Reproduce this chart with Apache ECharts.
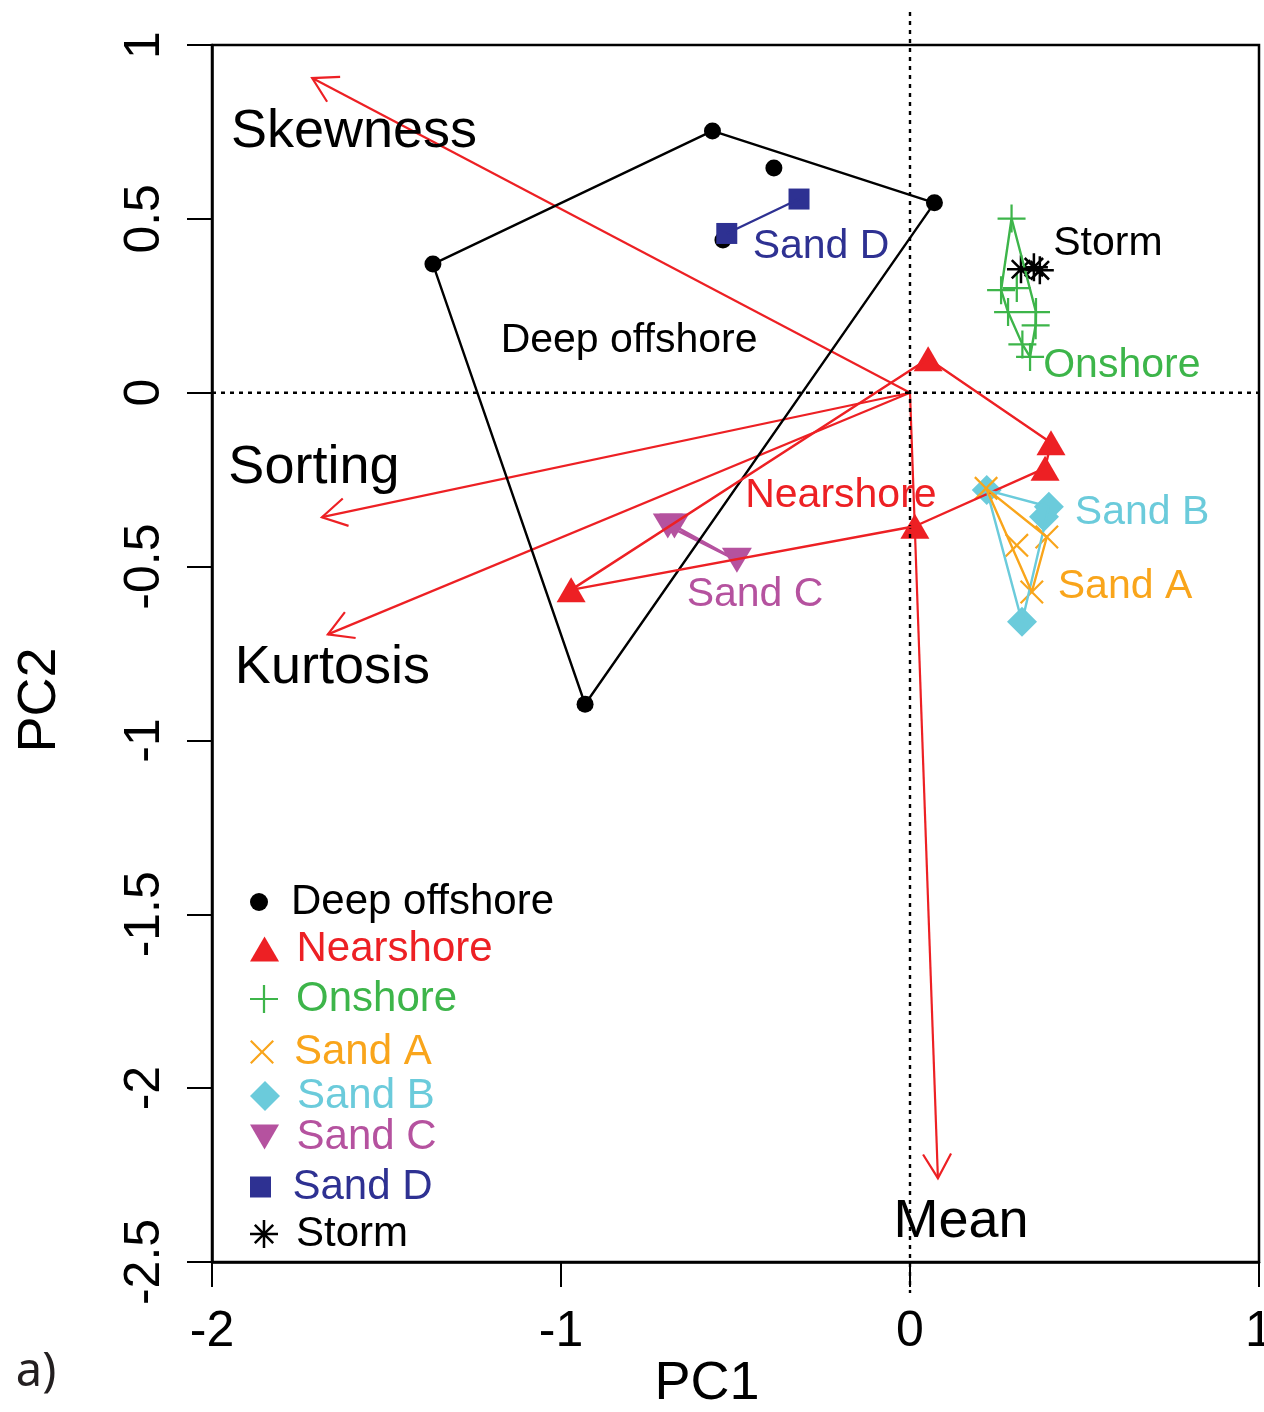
<!DOCTYPE html>
<html><head><meta charset="utf-8">
<script src="https://cdn.jsdelivr.net/npm/echarts@6/dist/echarts.min.js"></script>
<style>html,body{margin:0;padding:0;background:#fff}#c{width:1264px;height:1412px}</style>
</head><body><div id="c"></div>
<script>
// ---------------- data ----------------
const xTicks = [-2, -1, 0, 1];
const yTicks = [1, 0.5, 0, -0.5, -1, -1.5, -2, -2.5];

const groupNames = ['Deep offshore','Nearshore','Onshore','Sand A','Sand B','Sand C','Sand D','Storm'];

const deepOffshoreX = [-0.566, -0.390, 0.070, -1.367, -0.931, -0.536];
const deepOffshoreY = [ 0.753,  0.646, 0.546,  0.370, -0.896,  0.439];

const nearshoreX = [0.052,  0.404,  0.387,  0.014, -0.971];
const nearshoreY = [0.098, -0.144, -0.217, -0.384, -0.567];

const onshoreX = [0.291, 0.261, 0.306, 0.281, 0.361, 0.360, 0.322, 0.344];
const onshoreY = [0.501, 0.295, 0.301, 0.232, 0.232, 0.194, 0.139, 0.103];

const sandAX = [ 0.218,  0.306,  0.392,  0.349];
const sandAY = [-0.275, -0.439, -0.415, -0.573];

const sandBX = [ 0.220,  0.398,  0.384,  0.321];
const sandBY = [-0.280, -0.328, -0.357, -0.659];

const sandCX = [-0.694, -0.675, -0.496];
const sandCY = [-0.383, -0.383, -0.482];

const sandDX = [-0.525, -0.318];
const sandDY = [ 0.458,  0.557];

const stormX = [0.318, 0.355, 0.372];
const stormY = [0.355, 0.361, 0.352];

// loading arrows (from origin)
const variables = ['Skewness', 'Sorting', 'Kurtosis', 'Mean'];
const loadingX = [-1.713, -1.685, -1.668,  0.080];
const loadingY = [ 0.905, -0.358, -0.695, -2.259];

// text label anchor positions (data coordinates)
const varLabelX = [-1.593, -1.708, -1.655, 0.146];
const varLabelY = [ 0.749, -0.217, -0.792, -2.386];
const groupLabelText = ['Deep offshore','Sand D','Storm','Onshore','Nearshore','Sand B','Sand A','Sand C'];
const groupLabelX = [-0.805, -0.255, 0.567, 0.607, -0.198, 0.665, 0.616, -0.444];
const groupLabelY = [ 0.151,  0.421, 0.430, 0.079, -0.295, -0.344, -0.559, -0.582];

// ---------------- styles ----------------
const FONT = "'Liberation Sans', Arial, Helvetica, sans-serif";
const COL = {
  'Deep offshore': '#000000', 'Nearshore': '#ED2024', 'Onshore': '#3DB54A',
  'Sand A': '#F9A51B', 'Sand B': '#6BCBDB', 'Sand C': '#B5529F',
  'Sand D': '#2E3192', 'Storm': '#000000'
};
const plusPath = 'path://M46,0L54,0L54,46L100,46L100,54L54,54L54,100L46,100L46,54L0,54L0,46L46,46Z';
function xPoly(o, s, d) { // X outline inside box [o, o+s]
  const P = (a, b) => (o + a * s / 100).toFixed(2) + ',' + (o + b * s / 100).toFixed(2);
  return 'M' + [P(d,0), P(50,50-d), P(100-d,0), P(100,d), P(50+d,50), P(100,100-d),
    P(100-d,100), P(50,50+d), P(d,100), P(0,100-d), P(50-d,50), P(0,d)].join('L') + 'Z';
}
const crossPath = 'path://' + xPoly(0, 100, 6.5);
const starPath = 'path://M45.5,0L54.5,0L54.5,45.5L100,45.5L100,54.5L54.5,54.5L54.5,100L45.5,100L45.5,54.5L0,54.5L0,45.5L45.5,45.5Z' + xPoly(14, 72, 9);
const SYM = {
  'Deep offshore': ['circle', 17, 18],
  'Nearshore': ['path://M50,0L100,86L0,86Z', [29, 25], 25],
  'Onshore': [plusPath, 28, 28],
  'Sand A': [crossPath, 24, 24],
  'Sand B': ['path://M50,0L100,50L50,100L0,50Z', 30, 30],
  'Sand C': ['path://M0,0L100,0L50,86Z', [30, 25], 25],
  'Sand D': ['path://M0,0L100,0L100,100L0,100Z', 21, 21],
  'Storm': [starPath, 28, 28]
};
const legendRowY = [901, 948, 998, 1051, 1095, 1136, 1186, 1233];

const groupData = {
  'Deep offshore': [deepOffshoreX, deepOffshoreY],
  'Nearshore': [nearshoreX, nearshoreY],
  'Onshore': [onshoreX, onshoreY],
  'Sand A': [sandAX, sandAY],
  'Sand B': [sandBX, sandBY],
  'Sand C': [sandCX, sandCY],
  'Sand D': [sandDX, sandDY],
  'Storm': [stormX, stormY]
};

function hull(xs, ys) {
  const pts = xs.map((x, i) => [x, ys[i]]).sort((a, b) => a[0] - b[0] || a[1] - b[1]);
  if (pts.length < 3) return pts.concat([pts[0]]);
  const cr = (o, a, b) => (a[0]-o[0])*(b[1]-o[1]) - (a[1]-o[1])*(b[0]-o[0]);
  const lo = [], up = [];
  for (const p of pts) { while (lo.length >= 2 && cr(lo[lo.length-2], lo[lo.length-1], p) <= 0) lo.pop(); lo.push(p); }
  for (let i = pts.length - 1; i >= 0; i--) { const p = pts[i]; while (up.length >= 2 && cr(up[up.length-2], up[up.length-1], p) <= 0) up.pop(); up.push(p); }
  lo.pop(); up.pop();
  const h = lo.concat(up); h.push(h[0]); return h;
}

function groupSeries(name) {
  const [xs, ys] = groupData[name];
  const s = SYM[name];
  return [
    { type: 'line', name: name + ' hull', data: hull(xs, ys), symbol: 'none', silent: true,
      lineStyle: { color: COL[name], width: 2.4 }, itemStyle: { color: COL[name] } },
    { type: 'scatter', name: name, data: xs.map((x, i) => [x, ys[i]]),
      symbol: s[0], symbolSize: s[1], itemStyle: { color: COL[name], opacity: 1 } }
  ];
}

const arrowSeries = {
  type: 'custom', name: 'loadings', silent: true,
  data: loadingX.map((x, i) => [x, loadingY[i]]),
  encode: { x: 0, y: 1 },
  renderItem: function (params, api) {
    const p0 = api.coord([0, 0]);
    const p1 = api.coord([api.value(0), api.value(1)]);
    const ang = Math.atan2(p1[1] - p0[1], p1[0] - p0[0]);
    const L = 28, A = Math.PI / 6;
    const h1 = [p1[0] - L * Math.cos(ang - A), p1[1] - L * Math.sin(ang - A)];
    const h2 = [p1[0] - L * Math.cos(ang + A), p1[1] - L * Math.sin(ang + A)];
    const st = { stroke: '#ED2024', lineWidth: 2.2, fill: null };
    return { type: 'group', children: [
      { type: 'line', shape: { x1: p0[0], y1: p0[1], x2: p1[0], y2: p1[1] }, style: st },
      { type: 'polyline', shape: { points: [h1, p1, h2] }, style: st }
    ]};
  }
};

function textSeries(name, texts, xs, ys, colors, size) {
  return {
    type: 'custom', name: name, silent: true,
    data: xs.map((x, i) => [x, ys[i]]), encode: { x: 0, y: 1 },
    renderItem: function (params, api) {
      const p = api.coord([api.value(0), api.value(1)]);
      const i = params.dataIndex;
      return { type: 'text', x: p[0], y: p[1], style: {
        text: texts[i], fill: colors[i], fontSize: size, fontFamily: FONT,
        align: 'center', verticalAlign: 'middle', textAlign: 'center', textVerticalAlign: 'middle' } };
    }
  };
}

const refLineStyle = { color: '#000', width: 2.4, type: [4, 5] };
const series = [
  { type: 'line', name: 'h0', data: [[xTicks[0], 0], [xTicks[xTicks.length - 1], 0]], symbol: 'none', silent: true, lineStyle: refLineStyle },
  { type: 'line', name: 'v0', data: [[0, 1.095], [0, -2.589]], symbol: 'none', silent: true, clip: false, lineStyle: refLineStyle },
  ...groupSeries('Sand C'),
  ...groupSeries('Deep offshore'),
  arrowSeries,
  ...groupSeries('Sand D'),
  ...groupSeries('Nearshore'),
  ...groupSeries('Onshore'),
  ...groupSeries('Sand B'),
  ...groupSeries('Sand A'),
  ...groupSeries('Storm'),
  textSeries('varLabels', variables, varLabelX, varLabelY, variables.map(() => '#000'), 54),
  textSeries('groupLabels', groupLabelText, groupLabelX, groupLabelY, groupLabelText.map(n => COL[n]), 41)
];

const legends = groupNames.map((n, i) => {
  const h = SYM[n][2];
  return {
    data: [n], left: 250, top: legendRowY[i] - 20, padding: 0, itemGap: 0,
    itemWidth: 54, itemHeight: h, selectedMode: false, symbolKeepAspect: true,
    textStyle: { color: COL[n], fontSize: 42, fontFamily: FONT }
  };
});

const chart = echarts.init(document.getElementById('c'), null, { renderer: 'canvas' });
chart.setOption({
  animation: false,
  backgroundColor: '#fff',
  grid: { left: 212, top: 45, width: 1047, height: 1217, show: true, borderColor: '#000', borderWidth: 2.5,
          containLabel: false, outerBoundsMode: 'none' },
  xAxis: {
    type: 'value', min: Math.min(...xTicks), max: Math.max(...xTicks), interval: 1,
    axisLine: { show: true, onZero: false, lineStyle: { color: '#000', width: 2.5 } },
    axisTick: { show: true, length: 25, lineStyle: { color: '#000', width: 2 } },
    splitLine: { show: false },
    axisLabel: { fontSize: 50, fontFamily: FONT, color: '#000', margin: 45, showMinLabel: true, showMaxLabel: true }
  },
  yAxis: {
    type: 'value', min: Math.min(...yTicks), max: Math.max(...yTicks), interval: 0.5,
    axisLine: { show: true, onZero: false, lineStyle: { color: '#000', width: 2.5 } },
    axisTick: { show: true, length: 25, lineStyle: { color: '#000', width: 2 } },
    splitLine: { show: false },
    axisLabel: { fontSize: 50, fontFamily: FONT, color: '#000', rotate: 90, margin: 42, showMinLabel: true, showMaxLabel: true }
  },
  legend: legends,
  graphic: [
    { type: 'text', x: 707, y: 1384, style: { text: 'PC1', fontSize: 54, fontFamily: FONT, fill: '#000', align: 'center', verticalAlign: 'middle' } },
    { type: 'text', x: 40, y: 700, rotation: Math.PI / 2, style: { text: 'PC2', fontSize: 54, fontFamily: FONT, fill: '#000', align: 'center', verticalAlign: 'middle' } },
    { type: 'text', x: 36, y: 1373, style: { text: 'a)', fontSize: 47, fontFamily: "'Noto Sans', 'Open Sans', sans-serif", fill: '#231F20', align: 'center', verticalAlign: 'middle' } }
  ],
  series: series
});
</script>
</body></html>
